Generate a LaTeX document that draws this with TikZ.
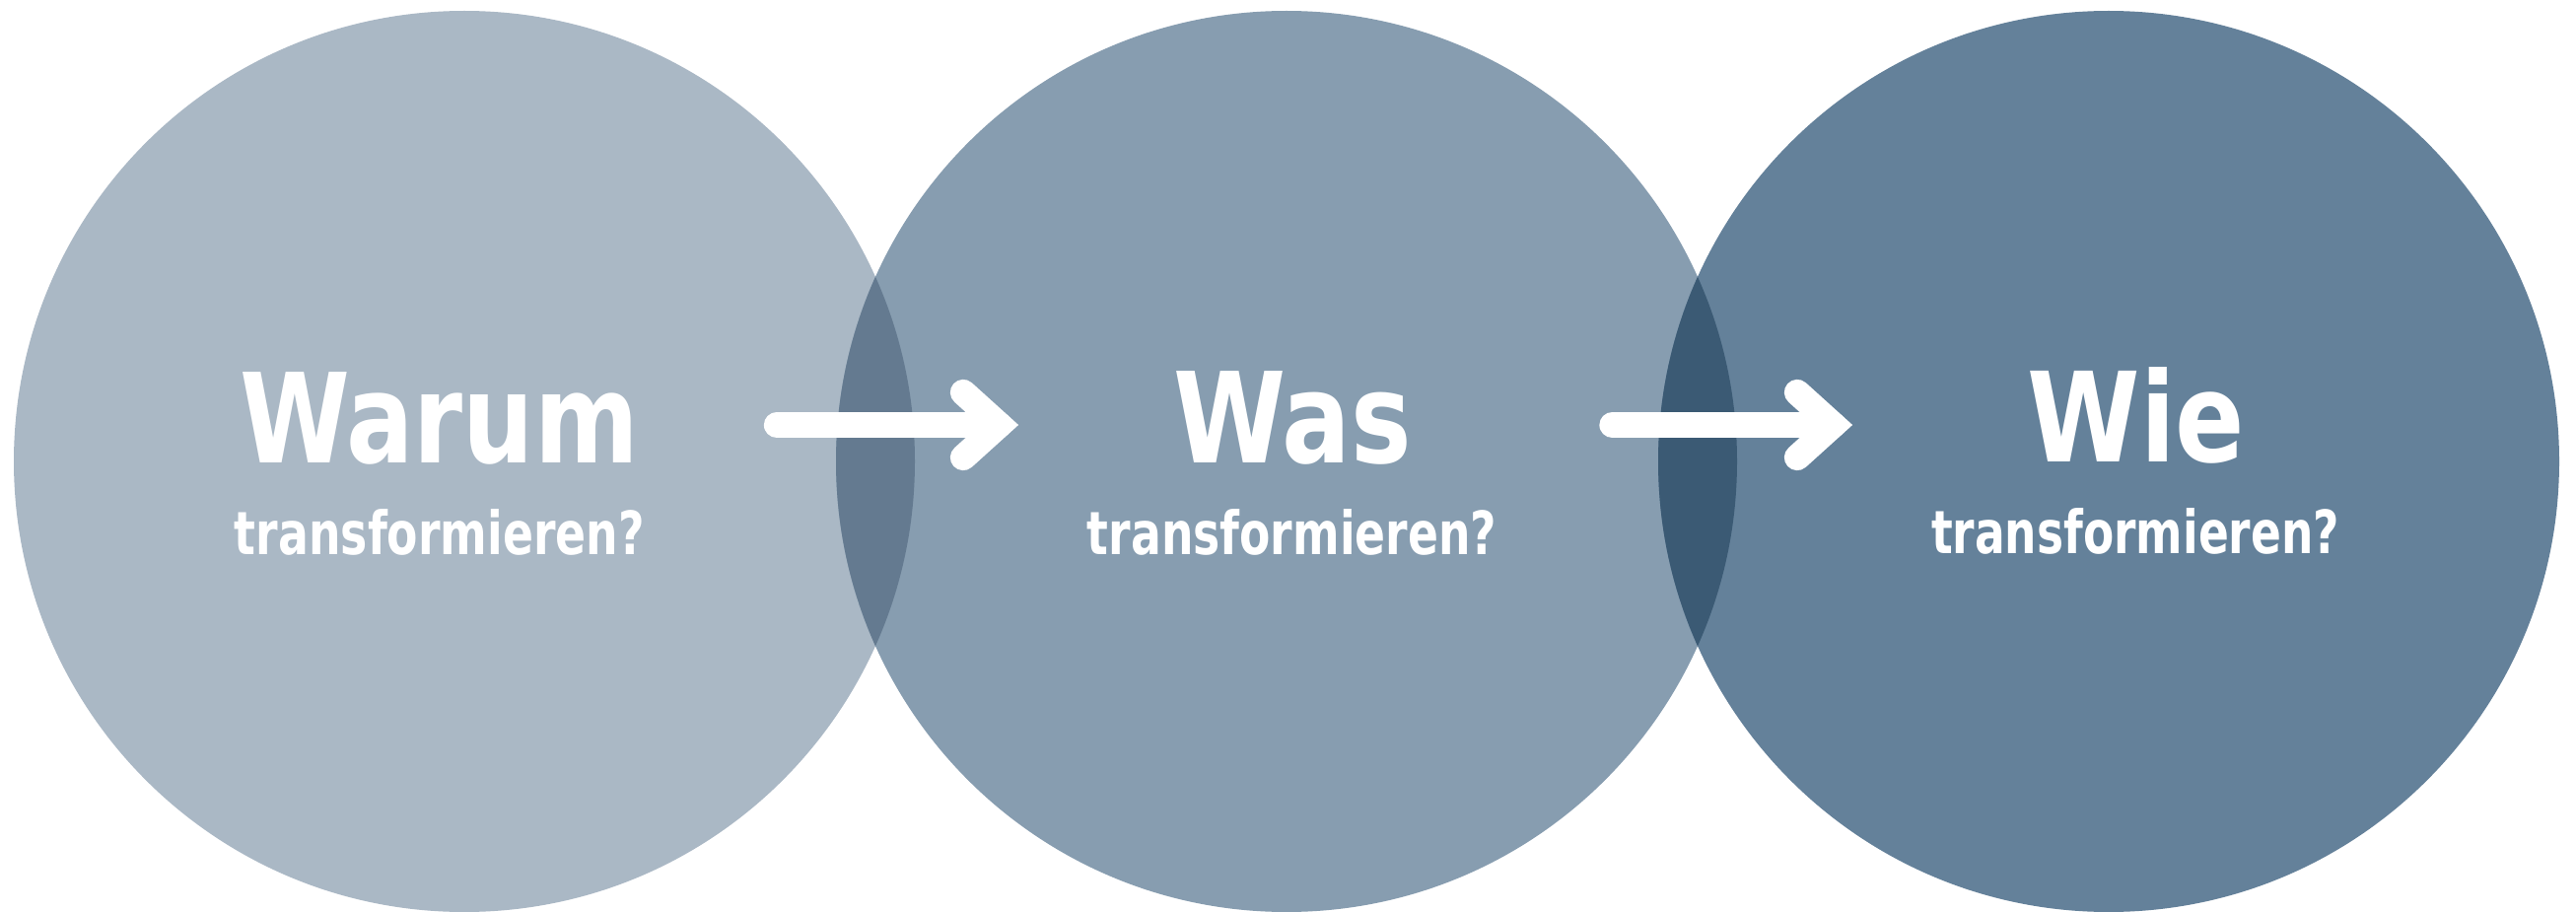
\documentclass[tikz,border=0pt]{standalone}
\usepackage{fontspec}
\setmainfont{DejaVu Sans}
\usepackage{graphicx}
\definecolor{cOne}{HTML}{AAB8C5}
\definecolor{cTwo}{HTML}{879DB0}
\definecolor{cThree}{HTML}{64819A}
\definecolor{cOvA}{HTML}{647A90}
\definecolor{cOvB}{HTML}{3B5A74}
\begin{document}
\begin{tikzpicture}[x=0.5pt,y=-0.5pt,
  headtext/.style={text=white, inner sep=0pt, outer sep=0pt, anchor=base, font=\bfseries},
  subtext/.style={text=white, inner sep=0pt, outer sep=0pt, anchor=base, font=\bfseries},
  arrowline/.style={draw=white, line width=13.15pt, line cap=round, line join=miter}]
\useasboundingbox (0,0) rectangle (2613,925);
\fill[white] (0,0) rectangle (2613,925);
% circles
\coordinate (c1) at (471,468);
\coordinate (c2) at (1305,468);
\coordinate (c3) at (2139,468);
\fill[cOne] (c1) circle[radius=228.5pt];
\fill[cTwo] (c2) circle[radius=228.5pt];
\fill[cThree] (c3) circle[radius=228.5pt];
\begin{scope}
  \clip (c1) circle[radius=228.5pt];
  \fill[cOvA] (c2) circle[radius=228.5pt];
\end{scope}
\begin{scope}
  \clip (c2) circle[radius=228.5pt];
  \fill[cOvB] (c3) circle[radius=228.5pt];
\end{scope}
% texts
\node[headtext] (h1) at (445.5,469) {\resizebox{202.2pt}{46pt}{Warum}};
\node[subtext] (s1) at (446,562.5) {\resizebox{208pt}{23pt}{transformieren?}};
\node[headtext] (h2) at (1311,469.5) {\resizebox{120.9pt}{46.5pt}{Was}};
\node[subtext] (s2) at (1310.5,562.5) {\resizebox{207.5pt}{23pt}{transformieren?}};
\node[headtext] (h3) at (2167,468) {\resizebox{110.2pt}{48pt}{Wie}};
\node[subtext] (s3) at (2166,561.5) {\resizebox{207pt}{23pt}{transformieren?}};
% arrows
\coordinate (a1s) at (788,431);
\coordinate (a1e) at (1013.5,431);
\coordinate (a2s) at (1635.5,431);
\coordinate (a2e) at (1859.5,431);
\draw[arrowline] (a1s) -- (a1e);
\draw[arrowline] ([shift={(-36.5,-33)}]a1e) -- (a1e) -- ([shift={(-36.5,33)}]a1e);
\draw[arrowline] (a2s) -- (a2e);
\draw[arrowline] ([shift={(-36.5,-33)}]a2e) -- (a2e) -- ([shift={(-36.5,33)}]a2e);
\end{tikzpicture}
\end{document}
